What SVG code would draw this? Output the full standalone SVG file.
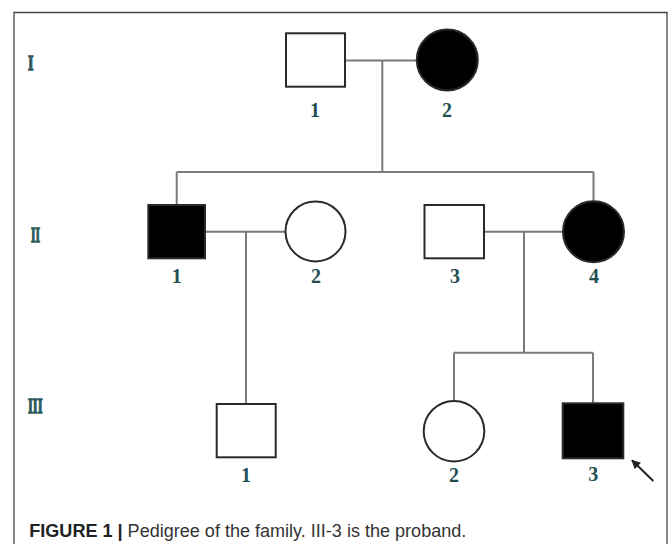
<svg xmlns="http://www.w3.org/2000/svg" width="669" height="544" viewBox="0 0 669 544">
<defs>
<style>
.frame{fill:none;stroke:#444;stroke-width:1.3}
.conn{fill:none;stroke:#7a7a7a;stroke-width:2}
.sym{stroke:#2a2a2a;stroke-width:2}
.open{fill:#fff}
.aff{fill:#000}
.num{font-family:"Liberation Serif",serif;font-weight:bold;font-size:20px;fill:#1f4f52;text-anchor:middle}
.gen{font-family:"Liberation Serif",serif;font-weight:bold;font-size:21px;fill:#2d5a5d;stroke:#2d5a5d;stroke-width:1.3}
.cap{font-family:"Liberation Sans",Arial,sans-serif;font-size:17.5px;fill:#333}
.capb{font-weight:bold;fill:#222}
</style>
<marker id="ah" viewBox="0 0 10 10" refX="9" refY="5" markerWidth="10" markerHeight="9" markerUnits="userSpaceOnUse" orient="auto">
<path d="M0,0 L10,5 L0,10 Z" fill="#222"/>
</marker>
</defs>
<rect width="669" height="544" fill="#fff"/>
<path class="frame" d="M14,544 V12.5 H667 V544"/>

<g id="generation-labels">
<text class="gen" x="28" y="70" textLength="5.5" lengthAdjust="spacingAndGlyphs">I</text>
<text class="gen" x="31" y="242" textLength="9" lengthAdjust="spacingAndGlyphs">II</text>
<text class="gen" x="28" y="413" textLength="14.5" lengthAdjust="spacingAndGlyphs">III</text>
</g>

<g id="connectors">
<path class="conn" d="M345,60.5 H417 M382.3,60.5 V172"/>
<path class="conn" d="M176.7,172 H593.5 M176.7,172 V205 M593.5,172 V201"/>
<path class="conn" d="M205,231.7 H285 M246,231.7 V404"/>
<path class="conn" d="M484,231.7 H563 M524,231.7 V352.7"/>
<path class="conn" d="M454,352.7 H593 M454,352.7 V400.7 M593,352.7 V403.3"/>
</g>

<g id="I-1">
<rect class="sym open" x="286" y="33.3" width="59" height="53.4"/>
<text class="num" x="315" y="116.5">1</text>
</g>
<g id="I-2">
<circle class="sym aff" cx="447.3" cy="60" r="30.5"/>
<text class="num" x="447" y="116.5">2</text>
</g>

<g id="II-1">
<rect class="sym aff" x="148.3" y="205" width="56.7" height="53.3"/>
<text class="num" x="176.7" y="283">1</text>
</g>
<g id="II-2">
<circle class="sym open" cx="315.5" cy="231.4" r="30"/>
<text class="num" x="316" y="283">2</text>
</g>
<g id="II-3">
<rect class="sym open" x="424.5" y="205" width="59.5" height="53.3"/>
<text class="num" x="455" y="283">3</text>
</g>
<g id="II-4">
<circle class="sym aff" cx="593.5" cy="231.7" r="30.5"/>
<text class="num" x="594" y="283">4</text>
</g>

<g id="III-1">
<rect class="sym open" x="216.7" y="404" width="59" height="53.3"/>
<text class="num" x="246" y="482">1</text>
</g>
<g id="III-2">
<circle class="sym open" cx="454" cy="431.2" r="30.3"/>
<text class="num" x="454" y="482">2</text>
</g>
<g id="III-3">
<rect class="sym aff" x="562.7" y="403.3" width="60.6" height="55"/>
<text class="num" x="593.3" y="481">3</text>
</g>

<g id="proband-arrow">
<line x1="653.3" y1="481" x2="632" y2="460.3" stroke="#222" stroke-width="2" marker-end="url(#ah)"/>
</g>

<text class="cap" x="29.3" y="536.5" textLength="437" lengthAdjust="spacingAndGlyphs"><tspan class="capb">FIGURE 1 | </tspan>Pedigree of the family. III-3 is the proband.</text>
</svg>
